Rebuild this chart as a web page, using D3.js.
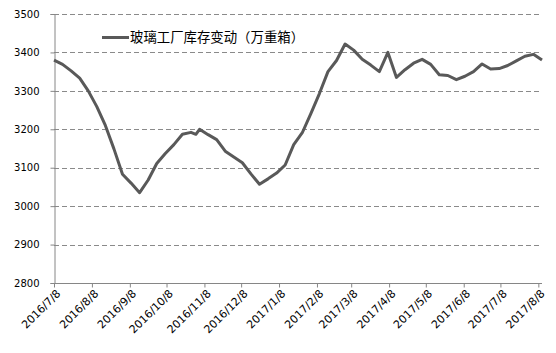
<!DOCTYPE html>
<html>
<head>
<meta charset="utf-8">
<script src="https://cdn.jsdelivr.net/npm/d3@7/dist/d3.min.js"></script>
<style>
  html, body { margin: 0; padding: 0; background: #fff; }
  svg { display: block; }
</style>
</head>
<body>
<svg id="chart" width="556" height="353"></svg>
<script>
// ---- data ----
const seriesName = "玻璃工厂库存变动（万重箱）";
const dates = [
  "2016-07-08","2016-07-15","2016-07-22","2016-07-29","2016-08-05","2016-08-12","2016-08-19","2016-08-26",
  "2016-09-02","2016-09-09","2016-09-16","2016-09-23","2016-09-30","2016-10-07","2016-10-14","2016-10-21",
  "2016-10-28","2016-11-01","2016-11-04","2016-11-11","2016-11-18","2016-11-25","2016-12-02","2016-12-09",
  "2016-12-16","2016-12-23","2016-12-30","2017-01-06","2017-01-13","2017-01-20","2017-01-27","2017-02-03",
  "2017-02-10","2017-02-17","2017-02-24","2017-03-03","2017-03-10","2017-03-17","2017-03-24","2017-03-31",
  "2017-04-07","2017-04-14","2017-04-21","2017-04-28","2017-05-05","2017-05-12","2017-05-19","2017-05-26",
  "2017-06-02","2017-06-09","2017-06-16","2017-06-23","2017-06-30","2017-07-07","2017-07-14","2017-07-21",
  "2017-07-28","2017-08-04","2017-08-11"
];
const values = [
  3380, 3369, 3352, 3333, 3300, 3259, 3210, 3149,
  3083, 3060, 3035, 3068, 3111, 3137, 3160, 3187,
  3192, 3187, 3200, 3186, 3173, 3143, 3128, 3113,
  3084, 3057, 3071, 3086, 3107, 3160, 3191, 3241,
  3293, 3350, 3379, 3422, 3406, 3382, 3367, 3350,
  3400, 3335, 3355, 3372, 3382, 3369, 3342, 3340,
  3329, 3338, 3350, 3370, 3357, 3358, 3366, 3378,
  3390, 3395, 3380
];
const xTickLabels = ["2016/7/8","2016/8/8","2016/9/8","2016/10/8","2016/11/8","2016/12/8",
  "2017/1/8","2017/2/8","2017/3/8","2017/4/8","2017/5/8","2017/6/8","2017/7/8","2017/8/8"];
const yTicks = [2800, 2900, 3000, 3100, 3200, 3300, 3400, 3500];
const xDomain = ["2016-07-08", "2017-08-11"];

// ---- chart ----
(function () {
const parse = d3.timeParse("%Y-%m-%d");
const parseTick = d3.timeParse("%Y/%m/%d");
const data = dates.map((d, i) => ({ date: parse(d), value: values[i] }));

const svg = d3.select("#chart");
const mLeft = 54, mRight = 542, mTop = 14, mBottom = 283;

const x = d3.scaleTime().domain(xDomain.map(parse)).range([mLeft, mRight]);
const y = d3.scaleLinear().domain([2800, 3500]).range([mBottom, mTop]);

const font = "'DejaVu Sans', Verdana, sans-serif";

// gridlines
svg.append("g").selectAll("line")
  .data(yTicks.filter(t => t !== 2800))
  .join("line")
  .attr("x1", mLeft).attr("x2", mRight)
  .attr("y1", d => Math.round(y(d)) + 0.5).attr("y2", d => Math.round(y(d)) + 0.5)
  .attr("stroke", "#8a8a8a").attr("stroke-width", 1)
  .attr("stroke-dasharray", "5,3");

// y axis
const yAxis = d3.axisLeft(y).tickValues(yTicks).tickSize(4).tickPadding(11).tickFormat(d3.format("d"));
const gy = svg.append("g").attr("transform", `translate(${mLeft + 0.5},0)`).call(yAxis);
gy.select(".domain").attr("stroke", "#868686");
gy.selectAll(".tick line").attr("stroke", "#868686");
gy.selectAll(".tick text").attr("font-family", font).attr("font-size", 10).attr("fill", "#000");

// x axis
const xTickDates = xTickLabels.map(parseTick);
const xAxis = d3.axisBottom(x).tickValues(xTickDates).tickSize(4).tickFormat((d, i) => xTickLabels[i]);
const gx = svg.append("g").attr("transform", `translate(0,${mBottom + 0.5})`).call(xAxis);
gx.select(".domain").attr("stroke", "#868686").attr("d", `M${mLeft - 3},0H${mRight}`);
gx.selectAll(".tick line").attr("stroke", "#868686");
gx.selectAll(".tick text")
  .attr("font-family", font).attr("font-size", 11).attr("fill", "#000")
  .attr("text-anchor", "end")
  .attr("y", 0).attr("dy", "0.35em")
  .attr("transform", "translate(4,8) rotate(-45)");

// line
const line = d3.line().x(d => x(d.date)).y(d => y(d.value));
svg.append("path")
  .datum(data)
  .attr("d", line)
  .attr("fill", "none")
  .attr("stroke", "#595959")
  .attr("stroke-width", 3)
  .attr("stroke-linejoin", "round");

// legend
const lg = svg.append("g");
lg.append("line").attr("x1", 102).attr("x2", 129).attr("y1", 37.5).attr("y2", 37.5)
  .attr("stroke", "#595959").attr("stroke-width", 3);
lg.append("text").attr("x", 130).attr("y", 37.5).attr("dy", "0.36em")
  .attr("font-family", "'Noto Sans CJK SC', sans-serif").attr("font-size", 13.4)
  .attr("fill", "#000").text(seriesName);
})();
</script>
</body>
</html>
